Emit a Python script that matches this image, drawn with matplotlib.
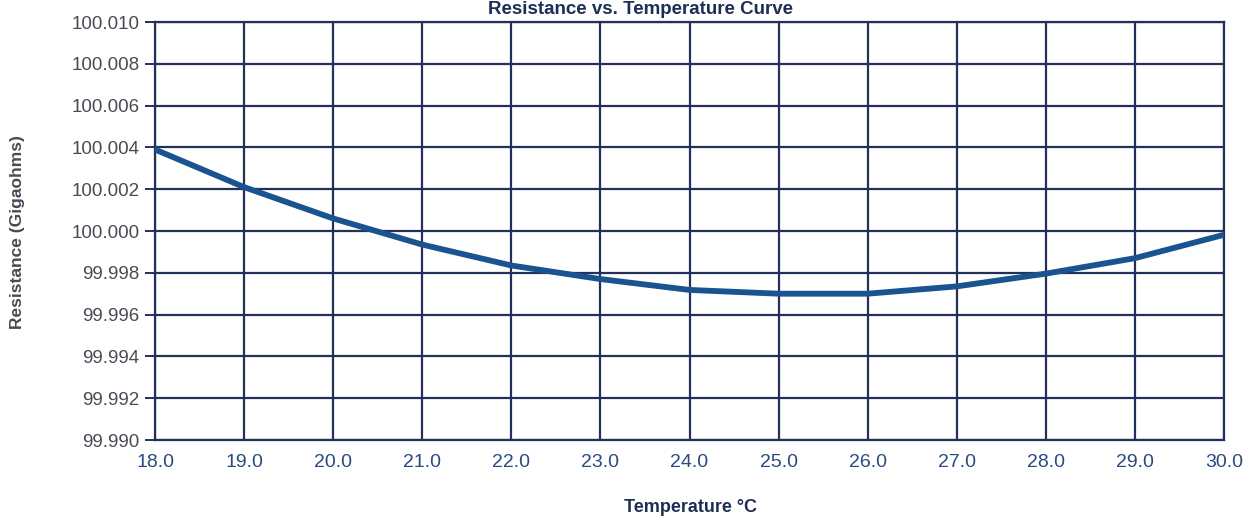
import matplotlib
matplotlib.use("Agg")
import matplotlib.pyplot as plt
import numpy as np

plt.rcParams['font.family'] = ['Liberation Sans', 'DejaVu Sans']

temps = [18, 19, 20, 21, 22, 23, 24, 25, 26, 27, 28, 29, 30]
resistance = [100.0039, 100.0021, 100.0006, 99.99935, 99.99835, 99.9977, 99.99718,
              99.99700, 99.99700, 99.99735, 99.99796, 99.9987, 99.99982]
x_ticks = [18, 19, 20, 21, 22, 23, 24, 25, 26, 27, 28, 29, 30]
y_ticks = [99.990, 99.992, 99.994, 99.996, 99.998, 100.000, 100.002, 100.004, 100.006, 100.008, 100.010]

fig = plt.figure(figsize=(12.48, 5.2), dpi=100)
ax = fig.add_axes([155/1248, 1-440/520, (1224-155)/1248, (440-22)/520])

grid_c = '#23305a'
ax.plot(temps, resistance, color='#1a5490', lw=4.2, solid_capstyle='round',
        solid_joinstyle='round', zorder=3)

ax.set_xlim(18, 30)
ax.set_ylim(99.990, 100.010)
ax.set_xticks(x_ticks)
ax.set_xticklabels([f"{t:.1f}" for t in x_ticks])
ax.set_yticks(y_ticks)
ax.set_yticklabels([f"{v:.3f}" for v in y_ticks])
ax.grid(True, color=grid_c, lw=1.6)
for s in ax.spines.values():
    s.set_color(grid_c)
    s.set_linewidth(1.6)
ax.tick_params(axis='y', direction='out', length=7, width=1.4, color=grid_c,
               labelsize=13.5, labelcolor='#4a4a55', pad=4)
ax.tick_params(axis='x', direction='out', length=0, width=1.4, color=grid_c,
               labelsize=14, labelcolor='#2a4a80', pad=10)

fig.text(18/1248, 1-232/520, 'Resistance (Gigaohms)', rotation=90, ha='center', va='center',
         fontsize=12.5, fontweight='bold', color='#4a4a55')
fig.text(690/1248, 1-508/520, 'Temperature \u00b0C', ha='center', va='center',
         fontsize=13, fontweight='bold', color='#1e2e55')
fig.text(640/1248, 1-10/520, 'Resistance vs. Temperature Curve', ha='center', va='center',
         fontsize=13.5, fontweight='bold', color='#1e2e55')

fig.savefig('out.png', dpi=100)
